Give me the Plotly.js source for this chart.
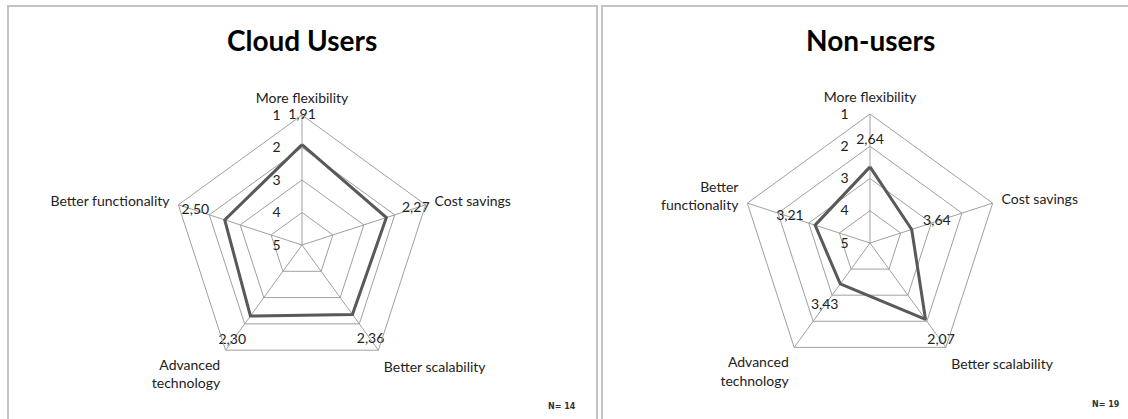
<!DOCTYPE html>
<html>
<head>
<meta charset="utf-8">
<script src="https://cdn.plot.ly/plotly-3.0.1.min.js"></script>
<style>html,body{margin:0;padding:0;background:#fff}#chart{width:1128px;height:419px}</style>
</head>
<body>
<div id="chart"></div>
<script>
const categories = ["More flexibility", "Cost savings", "Better scalability", "Advanced technology", "Better functionality"];
const leftTickLabels = ["More flexibility", "Cost savings", "Better scalability", "Advanced<br>technology", "Better functionality"];
const rightTickLabels = ["More flexibility", "Cost savings", "Better scalability", "Advanced<br>technology", "Better<br>functionality"];
const cloudUsers = [1.91, 2.27, 2.36, 2.30, 2.50];
const nonUsers = [2.64, 3.64, 2.07, 3.43, 3.21];
const radialTicks = [1, 2, 3, 4, 5];
const titles = ["Cloud Users", "Non-users"];
const sampleSizes = ["N= 14", "N= 19"];

const FONT = 'Lato, "Open Sans", sans-serif';
const fmt = v => v.toFixed(2).replace('.', ',');
const closeLoop = a => a.concat([a[0]]);

function lineTrace(vals, subplot) {
  return {
    type: 'scatterpolar', subplot: subplot,
    r: closeLoop(vals), theta: closeLoop(categories),
    mode: 'lines',
    line: {color: '#595959', width: 3},
    hoverinfo: 'skip', showlegend: false
  };
}
// data labels: Excel places them a fixed distance outward from each point (kept inside the outer ring)
function labelTrace(vals, subplot, outward) {
  return {
    type: 'scatterpolar', subplot: subplot,
    r: vals.map(v => Math.max(v - outward, 1.02)), theta: categories,
    text: vals.map(fmt),
    mode: 'text', textposition: 'middle center',
    textfont: {family: FONT, size: 14, color: '#222222'},
    cliponaxis: false,
    hoverinfo: 'skip', showlegend: false
  };
}

function polar(cx, cy, R, tickText) {
  return {
    domain: {x: [(cx - R) / W, (cx + R) / W], y: [1 - (cy + R) / H, 1 - (cy - R) / H]},
    gridshape: 'linear',
    bgcolor: 'rgba(0,0,0,0)',
    radialaxis: {
      range: [5, 1],
      tickvals: radialTicks,
      ticktext: radialTicks.map(String),
      angle: 90, tickangle: 90,
      side: 'counterclockwise',
      showline: false,
      ticks: 'outside', ticklen: 16, tickcolor: 'rgba(0,0,0,0)',
      gridcolor: '#a0a0a0', gridwidth: 1,
      tickfont: {family: FONT, size: 14, color: '#222222'}
    },
    angularaxis: {
      type: 'category',
      categoryarray: categories,
      tickvals: categories, ticktext: tickText,
      rotation: 90, direction: 'clockwise',
      showline: true, linecolor: '#a0a0a0', linewidth: 1,
      gridcolor: '#a0a0a0',
      ticks: 'outside', ticklen: 6, tickcolor: 'rgba(0,0,0,0)',
      tickfont: {family: FONT, size: 14, color: '#222222'}
    }
  };
}

const W = 1128, H = 419;
const px = x => x / W, py = y => 1 - y / H;

const data = [
  lineTrace(cloudUsers, 'polar'), labelTrace(cloudUsers, 'polar', 0.95),
  lineTrace(nonUsers, 'polar2'), labelTrace(nonUsers, 'polar2', 0.82)
];

const layout = {
  width: W, height: H,
  margin: {l: 0, r: 0, t: 0, b: 0},
  paper_bgcolor: '#ffffff',
  showlegend: false,
  polar: polar(302, 245, 130, leftTickLabels),
  polar2: polar(870, 243, 129, rightTickLabels),
  shapes: [
    {type: 'rect', xref: 'paper', yref: 'paper', x0: px(8), x1: px(597), y0: py(430), y1: py(6), line: {color: '#c4c4c4', width: 2}},
    {type: 'rect', xref: 'paper', yref: 'paper', x0: px(602), x1: px(1145), y0: py(430), y1: py(6), line: {color: '#c4c4c4', width: 2}}
  ],
  annotations: [
    {text: '<b>' + titles[0] + '</b>', xref: 'paper', yref: 'paper', x: px(302), y: py(40), xanchor: 'center', yanchor: 'middle', showarrow: false, font: {family: FONT, size: 28, color: '#000000'}},
    {text: '<b>' + titles[1] + '</b>', xref: 'paper', yref: 'paper', x: px(870), y: py(40), xanchor: 'center', yanchor: 'middle', showarrow: false, font: {family: FONT, size: 28, color: '#000000'}},
    {text: '<b>' + sampleSizes[0] + '</b>', xref: 'paper', yref: 'paper', x: px(578), y: py(406), xanchor: 'right', yanchor: 'middle', showarrow: false, font: {family: 'DejaVu Sans, sans-serif', size: 8, color: '#333333'}},
    {text: '<b>' + sampleSizes[1] + '</b>', xref: 'paper', yref: 'paper', x: px(1122), y: py(404), xanchor: 'right', yanchor: 'middle', showarrow: false, font: {family: 'DejaVu Sans, sans-serif', size: 8, color: '#333333'}}
  ]
};

Plotly.newPlot('chart', data, layout, {displayModeBar: false, staticPlot: true});
</script>
</body>
</html>
